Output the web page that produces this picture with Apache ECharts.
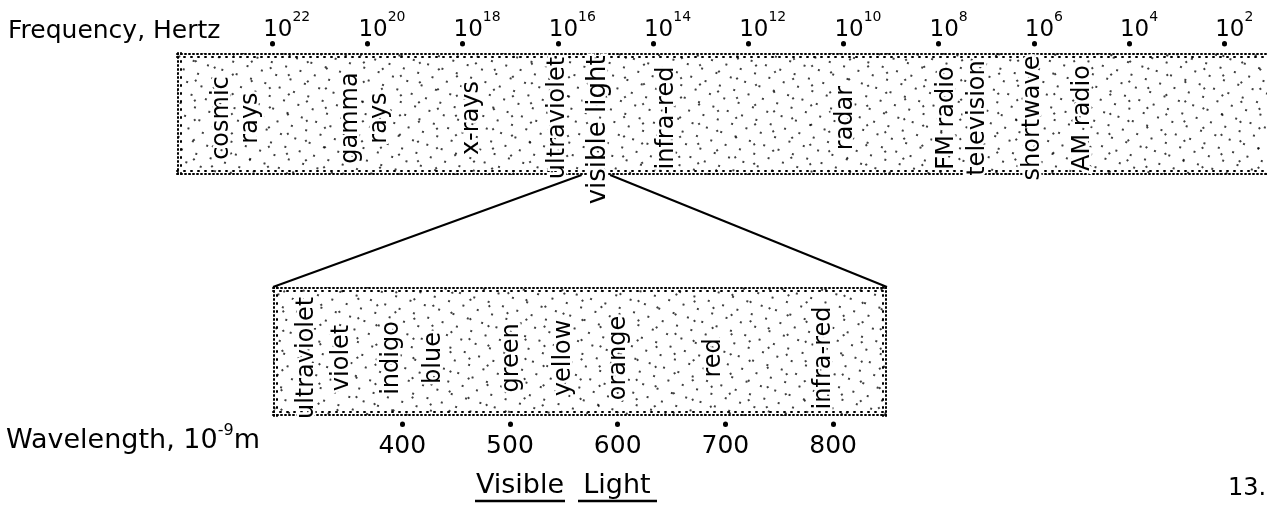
<!DOCTYPE html>
<html>
<head>
<meta charset="utf-8">
<script src="https://cdn.jsdelivr.net/npm/echarts@6/dist/echarts.min.js"></script>
<style>
  html, body { margin: 0; padding: 0; background: #fff; }
  #chart { width: 1267px; height: 508px; }
</style>
</head>
<body>
<div id="chart"></div>
<script>
// top scale: frequency, log10 of Hertz
const freqTicks = [22, 20, 18, 16, 14, 12, 10, 8, 6, 4, 2];
const bandNames = ['cosmic\nrays', 'gamma\nrays', 'x-rays', 'ultraviolet', 'visible light',
  'infra-red', 'radar', 'FM radio', 'television', 'shortwave', 'AM radio'];
const bandLogFreq = [22.76, 20.05, 17.8, 15.99, 15.15, 13.7, 9.96, 7.82, 7.17, 6.03, 4.98];
const visibleLogFreq = [15.5, 14.9]; // where the zoom lines leave the top band

// bottom scale: wavelength in nm
const waveTicks = [400, 500, 600, 700, 800];
const colorNames = ['ultraviolet', 'violet', 'indigo', 'blue', 'green', 'yellow', 'orange', 'red', 'infra-red'];
const colorWave = [310.9, 344.3, 390.7, 429.7, 501.2, 550.3, 601.4, 689.6, 791.6];

const FONT = '"DejaVu Sans", sans-serif';
const chart = echarts.init(document.getElementById('chart'));

// two overlapping dot patterns so the stipple looks less regular
const stippleA = {
  symbol: 'circle', symbolSize: 1, color: '#000',
  dashArrayX: [[1.9, 13], [0, 7, 1.9, 6]], dashArrayY: [1.9, 9], rotation: 0.3
};
const stippleB = {
  symbol: 'circle', symbolSize: 1, color: '#000',
  dashArrayX: [[1.9, 21], [0, 11, 1.9, 10]], dashArrayY: [1.9, 14], rotation: -0.6
};

// denser dots along the band edges
function edgeRender(params, api) {
  const cs = params.coordSys;
  const x0 = cs.x, y0 = cs.y, x1 = cs.x + cs.width, y1 = cs.y + cs.height;
  const dots = (a, b, c, d, dash) => ({
    type: 'line', shape: { x1: a, y1: b, x2: c, y2: d },
    style: { stroke: '#000', lineWidth: 2, lineDash: dash, lineCap: 'round' }
  });
  const kids = [
    dots(x0, y0 + 1, x1, y0 + 1, [1, 3]),
    dots(x0, y0 + 4, x1, y0 + 4, [1, 6]),
    dots(x0, y1 - 1, x1, y1 - 1, [1, 3]),
    dots(x0, y1 - 4, x1, y1 - 4, [1, 6]),
    dots(x0 + 1, y0, x0 + 1, y1, [1, 3]),
    dots(x0 + 4, y0, x0 + 4, y1, [1, 7])
  ];
  if (x1 < 1260) {
    kids.push(dots(x1 - 1, y0, x1 - 1, y1, [1, 3]));
    kids.push(dots(x1 - 4, y0, x1 - 4, y1, [1, 7]));
  }
  return { type: 'group', children: kids };
}

function bandBars(xi, yi, full) {
  return [stippleA, stippleB].map((d, k) => ({
    type: 'bar', xAxisIndex: xi, yAxisIndex: yi, silent: true, z: 1,
    barWidth: '100%', barGap: '-100%',
    itemStyle: { color: k === 0 ? '#fff' : 'rgba(255,255,255,0)', decal: d },
    data: [full]
  }));
}

// band names, drawn twice: a white halo that clears the stipple, then the ink
function nameSeries(xi, yi, data) {
  return [true, false].map(halo => ({
    type: 'scatter', xAxisIndex: xi, yAxisIndex: yi, silent: true, z: halo ? 4 : 5, clip: false,
    symbolSize: 1, itemStyle: { color: 'rgba(0,0,0,0)', opacity: 1 },
    label: {
      show: true, formatter: '{b}', position: 'inside', rotate: 90,
      align: 'center', verticalAlign: 'middle', opacity: 1,
      fontFamily: FONT, fontSize: 24, lineHeight: 29,
      color: halo ? '#fff' : '#000',
      textBorderColor: halo ? '#fff' : 'transparent', textBorderWidth: halo ? 5 : 0
    },
    data: data
  }));
}

const tickDots = { show: true, length: 0.5, lineStyle: { color: '#000', width: 5, cap: 'round' } };
const noLine = { show: false, onZero: false };

const topNames = bandNames.map((n, i) => n === 'visible light'
  ? { name: n, value: [bandLogFreq[i], 0.37], label: { fontSize: 26 } }
  : { name: n, value: [bandLogFreq[i], 0.467] });
const lowNames = colorNames.map((n, i) => ({ name: n, value: [colorWave[i], 0.45] }));

chart.setOption({
  animation: false,
  backgroundColor: '#fff',
  grid: [
    { left: 177, right: 0, top: 53, height: 122, containLabel: false, outerBoundsMode: 'none' },
    { left: 273, width: 614, top: 287, height: 129, containLabel: false, outerBoundsMode: 'none' }
  ],
  xAxis: [
    {
      gridIndex: 0, type: 'value', position: 'top', inverse: true, min: 1.1, max: 24, offset: 9,
      axisLine: noLine, splitLine: { show: false },
      axisTick: Object.assign({ customValues: freqTicks }, tickDots),
      axisLabel: {
        customValues: freqTicks, margin: 2, align: 'left', padding: [0, 0, 0, -9],
        formatter: v => '{b|10}{s|' + v + '}',
        rich: {
          b: { fontFamily: FONT, fontSize: 23, color: '#000', lineHeight: 32, verticalAlign: 'bottom' },
          s: { fontFamily: FONT, fontSize: 14, color: '#000', lineHeight: 32, verticalAlign: 'top' }
        }
      }
    },
    {
      gridIndex: 1, type: 'value', position: 'bottom', min: 280, max: 850, offset: 8,
      axisLine: noLine, splitLine: { show: false },
      axisTick: Object.assign({ customValues: waveTicks }, tickDots),
      axisLabel: { customValues: waveTicks, margin: 10, fontFamily: FONT, fontSize: 25, color: '#000' }
    }
  ],
  yAxis: [
    { gridIndex: 0, type: 'value', min: 0, max: 1, show: false },
    { gridIndex: 1, type: 'value', min: 0, max: 1, show: false },
    { gridIndex: 0, type: 'category', data: ['spectrum'], show: false },
    { gridIndex: 1, type: 'category', data: ['visible'], show: false }
  ],
  series: [
    ...bandBars(0, 2, 24),
    ...bandBars(1, 3, 850),
    { type: 'custom', xAxisIndex: 0, yAxisIndex: 0, silent: true, z: 2, renderItem: edgeRender, data: [0] },
    { type: 'custom', xAxisIndex: 1, yAxisIndex: 1, silent: true, z: 2, renderItem: edgeRender, data: [0] },
    ...nameSeries(0, 0, topNames),
    ...nameSeries(1, 1, lowNames)
  ]
});

// zoom lines from the visible slice of the top band to the corners of the lower band
const a0 = chart.convertToPixel({ xAxisIndex: 0, yAxisIndex: 0 }, [visibleLogFreq[0], 0]);
const a1 = chart.convertToPixel({ xAxisIndex: 0, yAxisIndex: 0 }, [visibleLogFreq[1], 0]);
const b0 = chart.convertToPixel({ xAxisIndex: 1, yAxisIndex: 1 }, [280, 1]);
const b1 = chart.convertToPixel({ xAxisIndex: 1, yAxisIndex: 1 }, [850, 1]);
const ink = { stroke: '#000', lineWidth: 2 };

chart.setOption({
  graphic: [
    { type: 'line', z: 3, shape: { x1: a0[0], y1: a0[1], x2: b0[0], y2: b0[1] }, style: ink },
    { type: 'line', z: 3, shape: { x1: a1[0], y1: a1[1], x2: b1[0], y2: b1[1] }, style: ink },
    { type: 'text', x: 8, y: 31, style: { text: 'Frequency, Hertz', font: '25px ' + FONT, fill: '#000', verticalAlign: 'middle' } },
    {
      type: 'text', x: 6, y: 441, style: {
        text: 'Wavelength, 10{s|-9}m', font: '27px ' + FONT, fill: '#000', verticalAlign: 'middle',
        rich: { s: { fontSize: 16, fontFamily: FONT, verticalAlign: 'top', lineHeight: 36 } }
      }
    },
    { type: 'text', x: 520, y: 486, style: { text: 'Visible', font: '27px ' + FONT, fill: '#000', align: 'center', verticalAlign: 'middle' } },
    { type: 'text', x: 617, y: 486, style: { text: 'Light', font: '27px ' + FONT, fill: '#000', align: 'center', verticalAlign: 'middle' } },
    { type: 'line', shape: { x1: 475, y1: 501, x2: 565, y2: 501 }, style: { stroke: '#000', lineWidth: 2.5 } },
    { type: 'line', shape: { x1: 578, y1: 501, x2: 657, y2: 501 }, style: { stroke: '#000', lineWidth: 2.5 } },
    { type: 'text', x: 1228, y: 489, style: { text: '13.', font: '24px ' + FONT, fill: '#000', verticalAlign: 'middle' } }
  ]
});
</script>
</body>
</html>
